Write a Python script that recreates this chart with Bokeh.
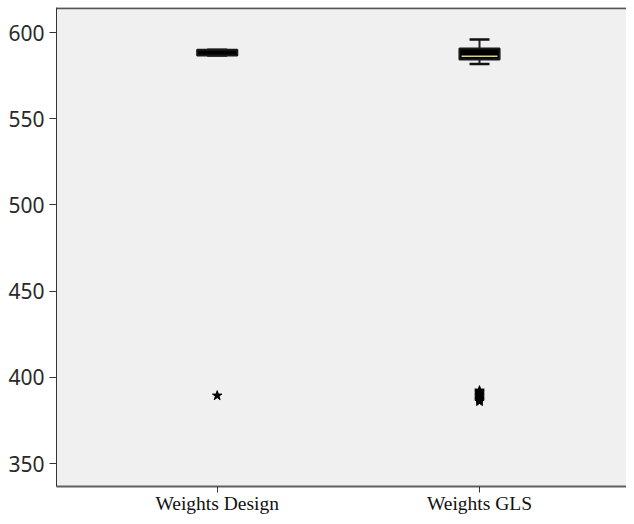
from bokeh.plotting import figure
from bokeh.models import Range1d, FixedTicker, Span, ColumnDataSource
from bokeh.embed import file_html
from bokeh.resources import INLINE

# ---- data ----
categories = ["Weights Design", "Weights GLS"]
positions = [1, 2]
q1 = [586.6, 584.3]
median = [588.3, 586.2]
q3 = [590.0, 590.7]
lower_whisker = [586.6, 581.8]
upper_whisker = [590.0, 596.0]
outliers_design = [389.4]
outliers_gls = [392.3, 391.5, 390.7, 389.9, 389.1, 388.3, 387.5, 386.7, 386.0]
y_ticks = [350, 400, 450, 500, 550, 600]

# ---- styles ----
median_colors = ["#000000", "#d6cf96"]
box_w = 0.153
cap_w = 0.076

p = figure(width=626, height=516,
           x_range=Range1d(0.3873, 2.5604), y_range=Range1d(336.7, 614.5),
           output_backend="svg", toolbar_location=None,
           min_border_left=56, min_border_right=0, min_border_top=7, min_border_bottom=28)

p.background_fill_color = "#f0f0f0"
p.border_fill_color = "#ffffff"
p.outline_line_color = None
p.xgrid.visible = False
p.ygrid.visible = False

box_src = ColumnDataSource(dict(x=positions, q1=q1, q3=q3, med=median,
                                lo=lower_whisker, hi=upper_whisker,
                                mx0=[x - box_w / 2 + 0.008 for x in positions],
                                mx1=[x + box_w / 2 - 0.008 for x in positions],
                                cx0=[x - cap_w / 2 for x in positions],
                                cx1=[x + cap_w / 2 for x in positions],
                                mc=median_colors))

# whiskers
p.segment(x0="x", x1="x", y0="q3", y1="hi", source=box_src, line_color="#222222", line_width=2)
p.segment(x0="x", x1="x", y0="lo", y1="q1", source=box_src, line_color="#222222", line_width=2)
p.segment(x0="cx0", x1="cx1", y0="hi", y1="hi", source=box_src, line_color="#111111", line_width=2.5)
p.segment(x0="cx0", x1="cx1", y0="lo", y1="lo", source=box_src, line_color="#111111", line_width=2.5)
# boxes
p.vbar(x="x", width=box_w, bottom="q1", top="q3", source=box_src,
       fill_color="#000000", line_color="#1a1a1a", line_width=2)
p.segment(x0="mx0", x1="mx1", y0="med", y1="med", source=box_src, line_color="mc", line_width=1.5)

# outliers
p.scatter(x=[positions[0]] * len(outliers_design), y=outliers_design, marker="star",
          size=10, fill_color="#000000", line_color="#000000")
p.scatter(x=[positions[1]] * len(outliers_gls), y=outliers_gls, marker="star",
          size=10, fill_color="#000000", line_color="#000000")

# top border
p.add_layout(Span(location=614.1, dimension="width", line_color="#555555", line_width=2))

# axes
p.yaxis.ticker = FixedTicker(ticks=y_ticks)
p.yaxis.minor_tick_line_color = None
p.yaxis.major_tick_in = 0
p.yaxis.major_tick_out = 7
p.yaxis.major_tick_line_color = "#333333"
p.yaxis.axis_line_color = "#333333"
p.yaxis.axis_line_width = 1
p.yaxis.major_label_standoff = 5
p.yaxis.major_label_text_font = "Noto Sans"
p.yaxis.major_label_text_font_size = "21px"
p.yaxis.major_label_text_color = "#2a2a2a"

p.xaxis.ticker = FixedTicker(ticks=positions)
p.xaxis.major_label_overrides = {pos: name for pos, name in zip(positions, categories)}
p.xaxis.minor_tick_line_color = None
p.xaxis.major_tick_in = 0
p.xaxis.major_tick_out = 6
p.xaxis.major_tick_line_color = "#333333"
p.xaxis.axis_line_color = "#606060"
p.xaxis.axis_line_width = 2
p.xaxis.major_label_standoff = 0
p.xaxis.major_label_text_font = "Liberation Serif"
p.xaxis.major_label_text_font_size = "19.5px"
p.xaxis.major_label_text_color = "#111111"

open("out.html", "w").write(file_html(p, INLINE))
